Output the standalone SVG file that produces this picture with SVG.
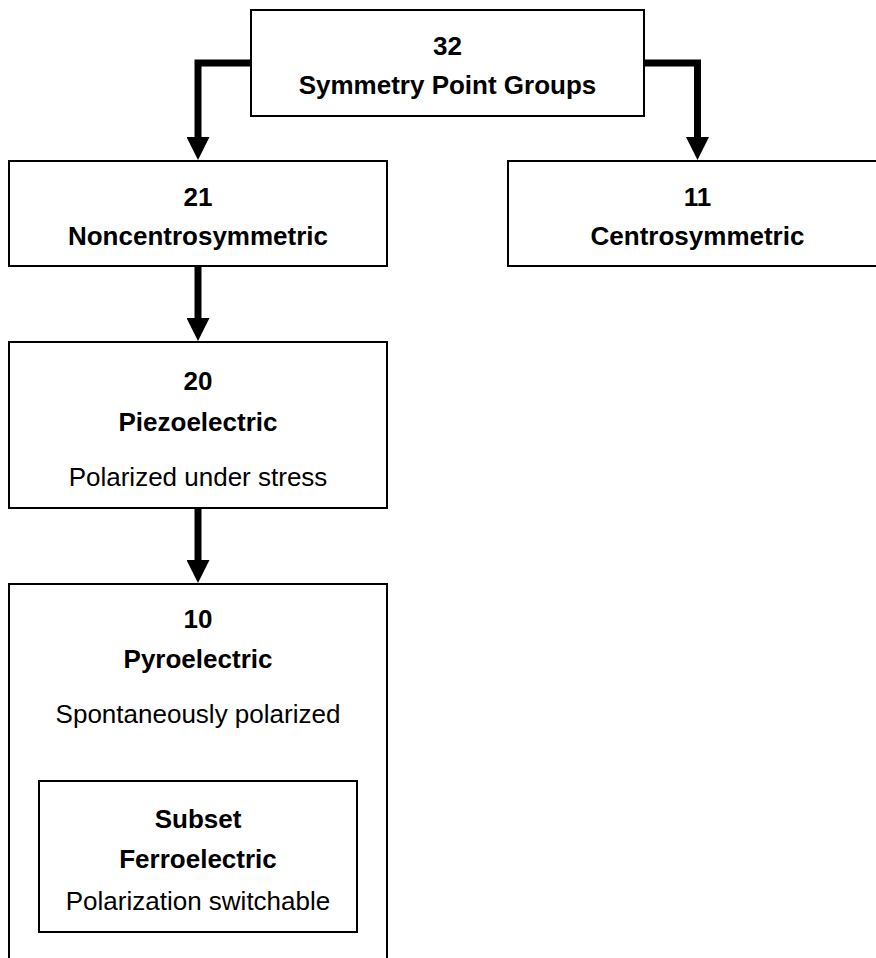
<svg xmlns="http://www.w3.org/2000/svg" width="876" height="958" viewBox="0 0 876 958">
  <style>
    .box { fill: #fff; stroke: #000; stroke-width: 2; }
    .t { font-family: "Liberation Sans", Arial, sans-serif; font-size: 26px; fill: #000; text-anchor: middle; }
    .b { font-weight: bold; }
    .conn { fill: none; stroke: #000; stroke-width: 7; stroke-linejoin: miter; }
  </style>
  <defs>
    <marker id="ah" viewBox="0 0 23 23" refX="0" refY="11.5" markerWidth="23" markerHeight="23" markerUnits="userSpaceOnUse" orient="auto">
      <path d="M0,0 L23,11.5 L0,23 Z" fill="#000"/>
    </marker>
  </defs>
  <rect width="876" height="958" fill="#fff"/>
  <g id="connectors">
    <path class="conn" d="M251,63 H198 V137" marker-end="url(#ah)"/>
    <path class="conn" d="M644,63 H697.5 V137" marker-end="url(#ah)"/>
    <path class="conn" d="M198,266 V318" marker-end="url(#ah)"/>
    <path class="conn" d="M198,508 V560" marker-end="url(#ah)"/>
  </g>
  <g id="n32">
    <rect class="box" x="251" y="10" width="393" height="106"/>
    <text class="t b" x="447.5" y="55">32</text>
    <text class="t b" x="447.5" y="94">Symmetry Point Groups</text>
  </g>
  <g id="n21">
    <rect class="box" x="9" y="161" width="378" height="105"/>
    <text class="t b" x="198" y="206">21</text>
    <text class="t b" x="198" y="245">Noncentrosymmetric</text>
  </g>
  <g id="n11">
    <rect class="box" x="508" y="161" width="380" height="105"/>
    <text class="t b" x="697.5" y="206">11</text>
    <text class="t b" x="697.5" y="245">Centrosymmetric</text>
  </g>
  <g id="n20">
    <rect class="box" x="9" y="342" width="378" height="166"/>
    <text class="t b" x="198" y="390">20</text>
    <text class="t b" x="198" y="431">Piezoelectric</text>
    <text class="t" x="198" y="486">Polarized under stress</text>
  </g>
  <g id="n10">
    <rect class="box" x="9" y="584" width="378" height="420"/>
    <text class="t b" x="198" y="628">10</text>
    <text class="t b" x="198" y="668">Pyroelectric</text>
    <text class="t" x="198" y="723">Spontaneously polarized</text>
  </g>
  <g id="ferro">
    <rect class="box" x="39" y="781" width="318" height="151"/>
    <text class="t b" x="198" y="828">Subset</text>
    <text class="t b" x="198" y="868">Ferroelectric</text>
    <text class="t" x="198" y="910">Polarization switchable</text>
  </g>
</svg>
